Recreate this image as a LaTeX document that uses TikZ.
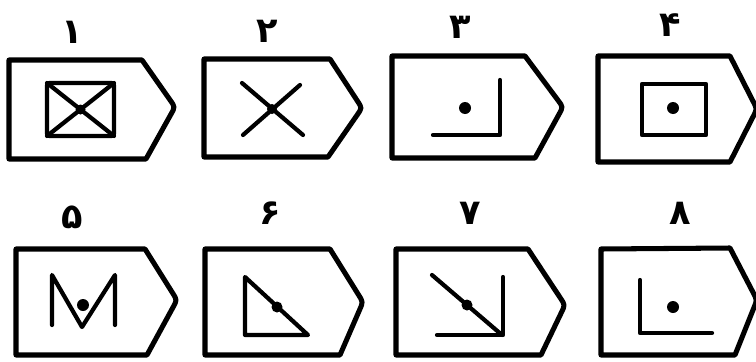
\documentclass[tikz,border=0pt]{standalone}
\usepackage{fontspec}
\newfontfamily\arabicfont[Script=Arabic]{DejaVu Sans}
\TeXXeTstate=1
\usetikzlibrary{calc,positioning}

\begin{document}
\begin{tikzpicture}[
  x=0.03cm, y=-0.03cm,
  card/.style={draw=black, line width=4.3pt, line join=round},
  glyph/.style={draw=black, line width=3.6pt, line cap=round, line join=round},
  dotmark/.style={fill=black},
  numlbl/.style={font=\arabicfont\bfseries\fontsize{30}{30}\selectfont, inner sep=0pt},
]
\useasboundingbox (0,0) rectangle (756,361);

% ---------- row 1 ----------
\node[numlbl] (n1) at (72,32) {\beginR ۱\endR};
\coordinate (tip1) at (175,107);
\draw[card] (9,60) -- (142,60) -- ($(tip1)!7pt!(142,60)$) .. controls (tip1) .. ($(tip1)!7pt!(146,159)$)
  -- (146,159) -- (9,159) -- cycle;
\draw[glyph, rounded corners=2pt] (47,83) rectangle (114,136);
\draw[glyph] (47,83) -- (114,136);
\draw[glyph] (114,83) -- (47,136);
\fill[dotmark] (80.5,109.5) circle (5);

\node[numlbl] (n2) at (267,31) {\beginR ۲\endR};
\coordinate (tip2) at (362,108);
\draw[card] (204,59) -- (330,59) -- ($(tip2)!7pt!(330,59)$) .. controls (tip2) .. ($(tip2)!7pt!(328,157)$)
  -- (328,157) -- (204,157) -- cycle;
\draw[glyph] (242,83) -- (303,135);
\draw[glyph] (300,85) -- (243,135);
\fill[dotmark] (272,109) circle (5);

\node[numlbl] (n3) at (460,27) {\beginR ۳\endR};
\coordinate (tip3) at (563,107);
\draw[card] (392,56) -- (525,56) -- ($(tip3)!7pt!(525,56)$) .. controls (tip3) .. ($(tip3)!7pt!(535,158)$)
  -- (535,158) -- (392,158) -- cycle;
\draw[glyph] (500,80) -- (500,135) -- (433,135);
\fill[dotmark] (465,108) circle (6);

\node[numlbl] (n4) at (670,25) {\beginR ۴\endR};
\coordinate (tip4) at (757,109);
\draw[card] (598,56) -- (730,56) -- ($(tip4)!7pt!(730,56)$) .. controls (tip4) .. ($(tip4)!7pt!(730,162)$)
  -- (730,162) -- (598,162) -- cycle;
\draw[glyph] (642,84) rectangle (706,135);
\fill[dotmark] (673,108) circle (6);

% ---------- row 2 ----------
\node[numlbl] (n5) at (72,217) {\beginR ۵\endR};
\coordinate (tip5) at (177,300);
\draw[card] (16,249) -- (145,249) -- ($(tip5)!7pt!(145,249)$) .. controls (tip5) .. ($(tip5)!7pt!(147,355)$)
  -- (147,355) -- (16,355) -- cycle;
\draw[glyph] (52,325) -- (52,275) -- (82,327) -- (115,275) -- (115,325);
\fill[dotmark] (83,305) circle (6);

\node[numlbl] (n6) at (270,213) {\beginR ۶\endR};
\coordinate (tip6) at (363,302);
\draw[card] (205,249) -- (330,249) -- ($(tip6)!7pt!(330,249)$) .. controls (tip6) .. ($(tip6)!7pt!(340,355)$)
  -- (340,355) -- (205,355) -- cycle;
\draw[glyph] (245,277) -- (245,335) -- (308,335) -- cycle;
\fill[dotmark] (277,307) circle (5.5);

\node[numlbl] (n7) at (470,213) {\beginR ۷\endR};
\coordinate (tip7) at (565,305);
\draw[card] (396,249) -- (528,249) -- ($(tip7)!7pt!(528,249)$) .. controls (tip7) .. ($(tip7)!7pt!(541,355)$)
  -- (541,355) -- (396,355) -- cycle;
\draw[glyph] (432,275) -- (502,335);
\draw[glyph] (503,277) -- (503,335) -- (437,335);
\fill[dotmark] (467,305) circle (5.5);

\node[numlbl] (n8) at (680,213) {\beginR ۸\endR};
\coordinate (tip8) at (757,300);
\draw[card] (601,249) -- (730,248) -- ($(tip8)!7pt!(730,248)$) .. controls (tip8) .. ($(tip8)!7pt!(735,355)$)
  -- (735,355) -- (601,355) -- cycle;
\draw[glyph] (640,280) -- (640,333) -- (712,333);
\fill[dotmark] (673,307) circle (6);

\end{tikzpicture}
\end{document}
